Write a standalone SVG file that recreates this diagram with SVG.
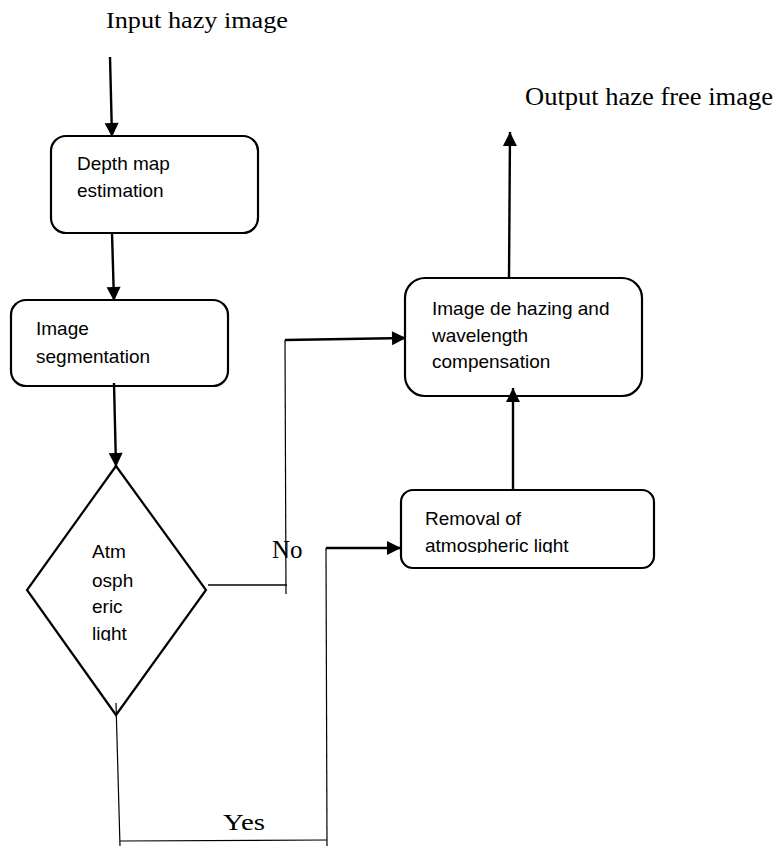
<svg xmlns="http://www.w3.org/2000/svg" width="775" height="846" viewBox="0 0 775 846">
<style>
.box{fill:#fff;stroke:#000;stroke-width:2.2}
.t{font-family:"Liberation Sans",Arial,sans-serif;font-size:19px;fill:#000}
.lbl{font-family:"Liberation Serif","Times New Roman",serif;fill:#000}
.c{fill:none;stroke:#000;stroke-width:2.4}
.thin{fill:none;stroke:#000;stroke-width:1.2}
</style>
<defs>
<marker id="ah" markerUnits="userSpaceOnUse" markerWidth="16" markerHeight="16" viewBox="0 0 16 16" refX="15" refY="8" orient="auto">
<path d="M1,1 L15,8 L1,15 Z" fill="#000"/>
</marker>
<clipPath id="clipD"><rect x="0" y="520" width="300" height="121"/></clipPath>
<clipPath id="clipR"><rect x="400" y="490" width="260" height="63"/></clipPath>
</defs>
<rect width="775" height="846" fill="#fff"/>

<text class="lbl" x="106" y="28" font-size="24" textLength="182" lengthAdjust="spacingAndGlyphs">Input hazy image</text>
<text class="lbl" x="525" y="105" font-size="25" textLength="248" lengthAdjust="spacingAndGlyphs">Output haze free image</text>
<text class="lbl" x="272" y="558" font-size="25">No</text>
<text class="lbl" x="223" y="830" font-size="24" textLength="42" lengthAdjust="spacingAndGlyphs">Yes</text>

<g id="n1">
<rect class="box" x="51" y="136" width="207" height="97" rx="15"/>
<text class="t" x="77" y="170">Depth map</text>
<text class="t" x="77" y="197">estimation</text>
</g>
<g id="n2">
<rect class="box" x="11" y="300" width="217" height="86" rx="15"/>
<text class="t" x="36" y="335">Image</text>
<text class="t" x="36" y="363">segmentation</text>
</g>
<g id="n3">
<polygon class="box" points="116,466 206,590 116,715 27,590"/>
<g clip-path="url(#clipD)">
<text class="t" x="92" y="558">Atm</text>
<text class="t" x="92" y="587">osph</text>
<text class="t" x="92" y="613">eric</text>
<text class="t" x="92" y="640">light</text>
</g>
</g>
<g id="n4">
<rect class="box" x="405" y="278" width="237" height="118" rx="20"/>
<text class="t" x="432" y="315">Image de hazing and</text>
<text class="t" x="432" y="342">wavelength</text>
<text class="t" x="432" y="368">compensation</text>
</g>
<g id="n5">
<rect class="box" x="401" y="490" width="253" height="78" rx="12"/>
<g clip-path="url(#clipR)">
<text class="t" x="425" y="525">Removal of</text>
<text class="t" x="425" y="552">atmospheric light</text>
</g>
</g>

<g id="connectors">
<line class="c" x1="110" y1="57" x2="112" y2="137" marker-end="url(#ah)"/>
<line class="c" x1="112" y1="233" x2="114" y2="301" marker-end="url(#ah)"/>
<line class="c" x1="114" y1="383" x2="116" y2="467" marker-end="url(#ah)"/>
<line class="c" x1="208" y1="585" x2="287" y2="585" style="stroke-width:1.4"/>
<line class="thin" x1="285" y1="340" x2="286" y2="594"/>
<line class="c" x1="285" y1="340" x2="406" y2="338" marker-end="url(#ah)"/>
<line class="thin" x1="116" y1="703" x2="120" y2="846"/>
<line class="thin" x1="120" y1="841" x2="327" y2="840"/>
<line class="thin" x1="327" y1="846" x2="326" y2="548"/>
<line class="c" x1="326" y1="548" x2="401" y2="548" marker-end="url(#ah)"/>
<line class="c" x1="513" y1="490" x2="513" y2="388" marker-end="url(#ah)"/>
<line class="c" x1="509" y1="279" x2="510" y2="132" marker-end="url(#ah)"/>
</g>
</svg>
